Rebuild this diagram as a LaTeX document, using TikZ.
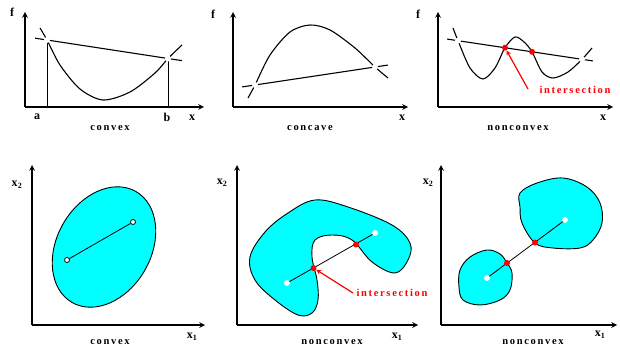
\documentclass[tikz,border=0pt]{standalone}
\usepackage{fontspec}
\setmainfont{Liberation Serif}
\newfontfamily\lblfont[LetterSpace=16]{Liberation Serif}
\usepackage{xcolor}
\usepackage{tikz}

\definecolor{setfill}{RGB}{0,255,255}
\tikzset{
  axis/.style={->,>=stealth,line width=1.5pt},
  curve/.style={line width=1.1pt},
  region/.style={fill=setfill,draw=black,line width=0.9pt},
  cross/.style={circle,fill=white,inner sep=0pt,minimum size=6pt},
  endpt/.style={circle,draw=black,fill=white,line width=0.8pt,inner sep=0pt,minimum size=5pt},
  hitpt/.style={circle,fill=red,inner sep=0pt,minimum size=6pt},
  lbl/.style={font=\lblfont\bfseries\fontsize{10.5}{12}\selectfont},
  hint/.style={font=\lblfont\bfseries\fontsize{10.5}{12}\selectfont,text=red},
  var/.style={font=\bfseries\fontsize{12}{14}\selectfont}
}

\begin{document}
\begin{tikzpicture}[x=1pt,y=-1pt]
  \useasboundingbox[fill=white] (0,0) rectangle (620,347);

  % --- top row: functions ---
  \foreach \ax/\ex/\nm in {25/204/A,233/408/B,438/613/C}{
    \coordinate (o\nm) at (\ax,107);
    \draw[axis] (o\nm) -- (\ax,12);
    \draw[axis] (o\nm) -- (\ex,107);
  }
  \node[var] (fA) at (12,12) {f};
  \node[var] (fB) at (213,14) {f};
  \node[var] (fC) at (418,14) {f};
  \node[var] (xA) at (192,118) {x};
  \node[var] (xB) at (402,118) {x};
  \node[var] (xC) at (603,118) {x};

  % convex
  \coordinate (pa) at (47,40);
  \coordinate (pb) at (168,58.5);
  \draw[line width=0.9pt] (pa) -- (47,107) (pb) -- (168,107);
  \draw[curve] plot[smooth] coordinates {(40,28) (47,40) (60,65) (80,89) (103,100) (130,92) (155,73) (168,58.5) (182,45)};
  \draw[curve,shorten <=-12pt,shorten >=-14pt] (pa) -- (pb);
  \node[cross] (pam) at (pa) {};
  \node[cross] (pbm) at (pb) {};
  \node[var] (la) at (37,117) {a};
  \node[var] (lb) at (167,117) {b};
  \node[lbl] (tA) at (110,128) {convex};

  % concave
  \coordinate (qa) at (255,85);
  \coordinate (qb) at (375,67);
  \draw[curve] plot[smooth] coordinates {(248,98) (255,85) (270,55) (290,32) (310,25) (330,30) (355,48) (375,67) (388,78)};
  \draw[curve,shorten <=-13pt,shorten >=-13pt] (qa) -- (qb);
  \node[cross] (qam) at (qa) {};
  \node[cross] (qbm) at (qb) {};
  \node[lbl] (tB) at (310,128) {concave};

  % nonconvex
  \coordinate (ra) at (458,40.7);
  \coordinate (rb) at (582,59.3);
  \draw[curve] plot[smooth] coordinates {(453,28) (458,40.7) (470,68) (483,79) (495,68) (505,47.7) (515,37) (524,42) (532,51.8) (542,72) (553,78) (568,72) (582,59.3) (592,48)};
  \draw[curve,shorten <=-11pt,shorten >=-11pt] (ra) -- (rb);
  \node[cross] (ram) at (ra) {};
  \node[cross] (rbm) at (rb) {};
  \node[hitpt] (r1) at (505,47.7) {};
  \node[hitpt] (r2) at (532,51.8) {};
  \node[hint] (hC) at (575,90) {intersection};
  \draw[->,>=stealth,red,line width=1.2pt] (528,89) -- (r1);
  \node[lbl] (tC) at (518,128) {nonconvex};

  % --- bottom row: sets ---
  \coordinate (oD) at (32,325);
  \coordinate (oE) at (237,325);
  \coordinate (oF) at (441,325);
  \draw[axis] (oD) -- (32,165);  \draw[axis] (oD) -- (205,325);
  \draw[axis] (oE) -- (237,165); \draw[axis] (oE) -- (418,325);
  \draw[axis] (oF) -- (441,165); \draw[axis] (oF) -- (617,325);
  \node[var] (yD) at (17,185) {x\textsubscript{2}};
  \node[var] (yE) at (222,183) {x\textsubscript{2}};
  \node[var] (yF) at (428,183) {x\textsubscript{2}};
  \node[var] (xD) at (192,337) {x\textsubscript{1}};
  \node[var] (xE) at (397,337) {x\textsubscript{1}};
  \node[var] (xF) at (600,335) {x\textsubscript{1}};

  % convex set
  \draw[region,rotate around={-30:(104,247)}] (104,247) ellipse [x radius=47pt, y radius=64pt];
  \node[endpt] (d1) at (67,260) {};
  \node[endpt] (d2) at (133,222) {};
  \draw[line width=0.8pt] (d1) -- (d2);
  \node[lbl] (tD) at (110,342) {convex};

  % kidney
  \draw[region] plot[smooth cycle,tension=0.6] coordinates {(250,257) (265,232) (288,213) (315,200) (348,207) (392,225) (410,243) (408,260) (395,273) (372,262) (352,240) (332,235) (315,240) (312,257) (317,280) (318,300) (312,313) (298,315) (275,300) (255,280)};
  \node[endpt,draw=white] (e1) at (287,283) {};
  \node[endpt,draw=white] (e2) at (375,233) {};
  \draw[line width=0.8pt] (e1) -- (e2);
  \node[hitpt] (e3) at (313.5,268) {};
  \node[hitpt] (e4) at (356,244.5) {};
  \node[hint] (hE) at (392,293) {intersection};
  \draw[->,>=stealth,red,line width=1.2pt] (hE.west) -- (e3);
  \node[lbl] (tE) at (332,342) {nonconvex};

  % two blobs
  \draw[region] plot[smooth cycle,tension=0.6] coordinates {(460,270) (470,257) (487,250) (500,254) (507,263) (512,273) (510,290) (500,300) (480,305) (463,300) (459,287)};
  \draw[region] plot[smooth cycle,tension=0.6] coordinates {(520,193) (537,183) (563,178) (587,187) (600,203) (602,223) (593,240) (580,248) (553,248) (535,243) (522,223) (520,207)};
  \node[endpt,draw=white] (f1) at (487,278) {};
  \node[endpt,draw=white] (f2) at (565,220) {};
  \draw[line width=0.8pt] (f1) -- (f2);
  \node[hitpt] (f3) at (507,263) {};
  \node[hitpt] (f4) at (535,242.5) {};
  \node[lbl] (tF) at (533,342) {nonconvex};
\end{tikzpicture}
\end{document}
